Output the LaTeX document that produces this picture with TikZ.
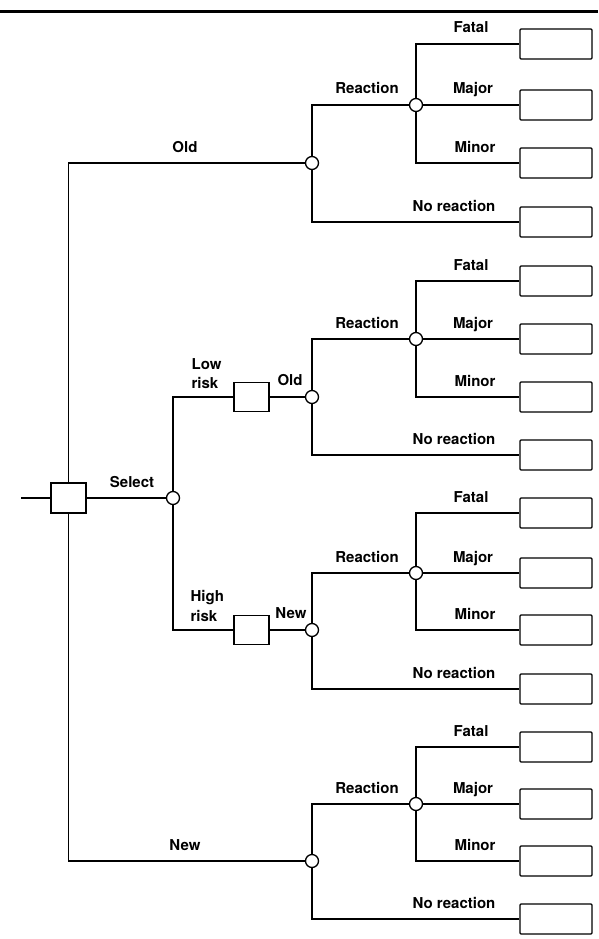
\documentclass[tikz,border=0pt]{standalone}
\usepackage{fontspec}
\setmainfont{TeX Gyre Heros}
\begin{document}
\begin{tikzpicture}[x=1pt,y=-1pt,
  line width=1.3pt,
  chance/.style={circle, draw, fill=white, minimum size=13pt, inner sep=0pt},
  dec/.style={rectangle, draw, fill=white, minimum width=35pt, minimum height=30pt, inner sep=0pt},
  term/.style={rectangle, draw, fill=white, minimum width=72pt, minimum height=30pt, inner sep=0pt, rounded corners=1pt},
  lbl/.style={font=\bfseries\fontsize{15}{18}\selectfont, anchor=base, inner sep=0pt},
  lblw/.style={lbl, anchor=base west},
]
\useasboundingbox (0,0) rectangle (598,939);
\coordinate (ruleL) at (0,12);
\coordinate (ruleR) at (598,12);
\draw[line width=3pt] (ruleL) -- (ruleR);

% outcome blocks
\foreach \b/\yf/\ym/\yn/\yr in {1/44/105/163/222, 2/281/339/397/455, 3/513/573/630/689, 4/747/804/861/919} {
  \node[chance] (r\b) at (416,\ym) {};
  \node[term] (tf\b) at (556,\yf) {};
  \node[term] (tm\b) at (556,\ym) {};
  \node[term] (tn\b) at (556,\yn) {};
  \node[term] (tx\b) at (556,\yr) {};
  \node[chance] (c\b) at (312,\yn) {};
  \draw (c\b.north) |- (r\b.west);
  \draw (c\b.south) |- (tx\b.west);
  \draw (r\b.north) |- (tf\b.west);
  \draw (r\b.east) -- (tm\b.west);
  \draw (r\b.south) |- (tn\b.west);
  \node[lbl] (lr\b) at (367,\ym-11) {Reaction};
  \node[lbl] (lf\b) at (471,\yf-11) {Fatal};
  \node[lbl] (lm\b) at (473,\ym-11) {Major};
  \node[lbl] (ln\b) at (475,\yn-11) {Minor};
  \node[lbl] (lx\b) at (454,\yr-11) {No reaction};
}

% decision structure
\node[dec] (root) at (68.5,498) {};
\coordinate (in) at (21,498);
\node[chance] (s) at (173,498) {};
\node[dec, minimum height=29pt] (lb) at (251.5,397) {};
\node[dec, minimum height=29pt] (hb) at (251.5,630) {};

\draw (in) -- (root.west);
\draw (root.north) |- (c1.west);
\draw (root.south) |- (c4.west);
\draw (root.east) -- (s.west);
\draw (s.north) |- (lb.west);
\draw (s.south) |- (hb.west);
\draw (lb.east) -- (c2.west);
\draw (hb.east) -- (c3.west);

\node[lbl] (lold) at (185,152) {Old};
\node[lbl] (lnew) at (185,850) {New};
\node[lbl] (lsel) at (132,487) {Select};
\node[lblw] (llow1) at (191,369) {Low};
\node[lblw] (llow2) at (191,388) {risk};
\node[lblw] (lhigh1) at (190,601) {High};
\node[lblw] (lhigh2) at (190,621) {risk};
\node[lbl] (lold2) at (290,385) {Old};
\node[lbl] (lnew2) at (291,618) {New};
\end{tikzpicture}
\end{document}
